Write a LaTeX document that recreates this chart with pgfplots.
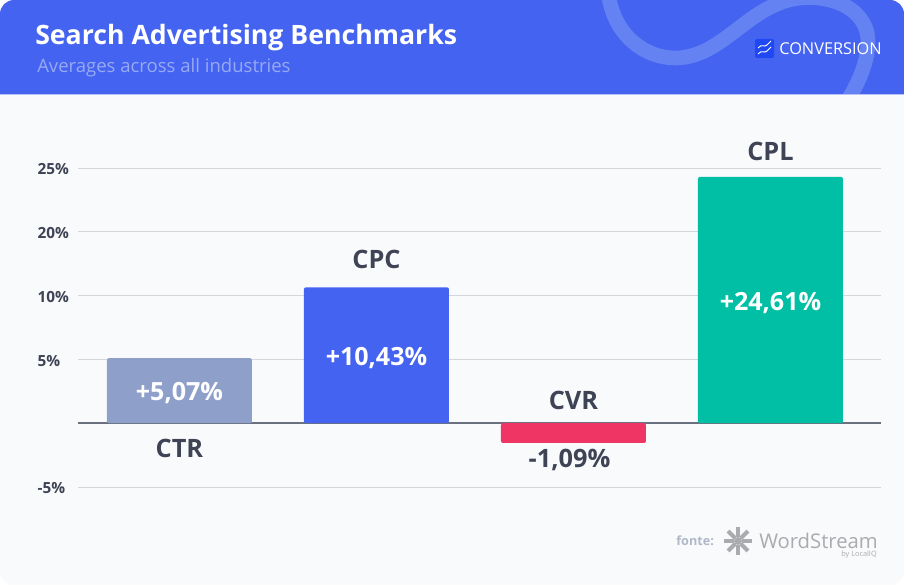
\documentclass[border=0pt]{standalone}
\usepackage{pgfplots}
\pgfplotsset{compat=1.18}
\usepackage{pgfplotstable}
\usepackage{fontspec}
\setmainfont{Open Sans}
\definecolor{hdr}{HTML}{4463F0}
\definecolor{swoosh}{HTML}{6582F2}
\definecolor{subt}{HTML}{98A9F3}
\definecolor{page}{HTML}{F9FAFC}
\definecolor{ink}{HTML}{3E4355}
\definecolor{gridc}{HTML}{D5D7DC}
\definecolor{zero}{HTML}{6B7080}
\definecolor{ctr}{HTML}{8EA0CA}
\definecolor{cpc}{HTML}{4463F0}
\definecolor{cvr}{HTML}{EE3563}
\definecolor{cpl}{HTML}{00BFA5}
\definecolor{fonte}{HTML}{B0B8C8}
\definecolor{wsgrey}{HTML}{A9ABAE}
\definecolor{logo}{HTML}{1F48F2}
\newcommand{\fs}[1]{\fontsize{#1}{#1}\selectfont}
% bar heights are positions on the chart's uneven scale (one tick = 1)
\pgfplotstableread{
x h
0 1.02
}\ctrdata
\pgfplotstableread{
x h
1 2.13
}\cpcdata
\pgfplotstableread{
x h
2 -0.31
}\cvrdata
\pgfplotstableread{
x h
3 3.86
}\cpldata
\begin{document}
\begin{tikzpicture}
\begin{scope}[x=0.75pt,y=-0.75pt]
\path[use as bounding box] (0,0) rectangle (904,585);
\begin{scope}
\clip[rounded corners=10.5pt] (0,0) rectangle (904,585);
\fill[page] (0,0) rectangle (904,585);
\fill[hdr] (0,0) rectangle (904,94);
\fill[subt!70!white] (0,94) rectangle (904,95);
\begin{scope}
\clip (0,0) rectangle (904,94);
\draw[swoosh,line width=11pt] (608,-10) .. controls (612,35) and (645,58) .. (675,58)
  .. controls (715,58) and (740,20) .. (775,5)
  .. controls (810,-12) and (868,0) .. (868,42)
  .. controls (868,60) and (860,80) .. (848,100);
\end{scope}
\end{scope}
\node[anchor=base west,inner sep=0pt,white,font=\fs{20}\bfseries] at (35,45) {Search Advertising Benchmarks};
\node[anchor=base west,inner sep=0pt,subt,font=\fs{13.9}] at (37,73) {Averages across all industries};
% conversion logo
\fill[logo,rounded corners=1.5pt] (755,39) rectangle (774,58);
\draw[white,line width=0.7pt] (758,48) .. controls (762,43) and (764,48) .. (767,45) -- (771,41);
\draw[white,line width=0.7pt] (758,54) .. controls (762,49) and (764,54) .. (767,51) -- (771,47);
\node[anchor=base west,inner sep=0pt,white,font=\fs{12.25}] at (779,54.5) {CONVERSION};
% source
\node[anchor=base west,inner sep=0pt,fonte,font=\fs{9.5}\bfseries] at (676,545) {fonte:};
\foreach \a in {0,45,...,315}
  \draw[wsgrey,line width=3pt] (738,541) ++(\a:4) -- ++(\a:10);
\fill[wsgrey] (738,541) circle (4);
\node[anchor=base west,inner sep=0pt,wsgrey,font=\fs{15.2}] at (759,548) {WordStream};
\node[anchor=base east,inner sep=0pt,wsgrey,font=\fs{5.5}] at (877,556.5) {by LocalIQ};
\end{scope}
\begin{axis}[
  at={(58.5pt,-365.25pt)},anchor=south west,
  scale only axis,
  width=602.25pt,height=239.25pt,
  xmin=-0.515,xmax=3.561,
  ymin=-1,ymax=4,
  axis line style={draw=none},
  xtick=\empty,
  ytick={-1,0,1,2,3,4},
  yticklabels={-5\%,,5\%,10\%,20\%,25\%},
  ymajorgrids,
  grid style={gridc,line width=0.75pt},
  major tick length=0pt,
  yticklabel style={anchor=west,xshift=-33.75pt,yshift=-1pt,text=ink,font=\fs{11.5}\bfseries},
  ybar,
  bar width=108.75pt,
  bar shift=0pt,
  clip=false,
]
\draw[zero,line width=1.1pt] (axis cs:-0.515,0) -- (axis cs:3.561,0);
\addplot[fill=ctr,draw=none,rounded corners=1.5pt] table[x=x,y=h] {\ctrdata};
\addplot[fill=cpc,draw=none,rounded corners=1.5pt] table[x=x,y=h] {\cpcdata};
\addplot[fill=cvr,draw=none,rounded corners=1.5pt] table[x=x,y=h] {\cvrdata};
\addplot[fill=cpl,draw=none,rounded corners=1.5pt] table[x=x,y=h] {\cpldata};
\tikzset{val/.style={white,font=\fs{18.8}\bfseries,inner sep=0pt},cat/.style={ink,font=\fs{19}\bfseries,inner sep=0pt}}
\node[val] at (axis cs:0,0.475) {+5,07\%};
\node[val] at (axis cs:1,1.025) {+10,43\%};
\node[val] at (axis cs:3,1.89) {+24,61\%};
\node[cat] at (axis cs:1.98,-0.57) {-1,09\%};
\node[cat] at (axis cs:0,-0.39) {CTR};
\node[cat] at (axis cs:1,2.57) {CPC};
\node[cat] at (axis cs:2,0.36) {CVR};
\node[cat] at (axis cs:3,4.265) {CPL};
\end{axis}
\end{tikzpicture}
\end{document}
